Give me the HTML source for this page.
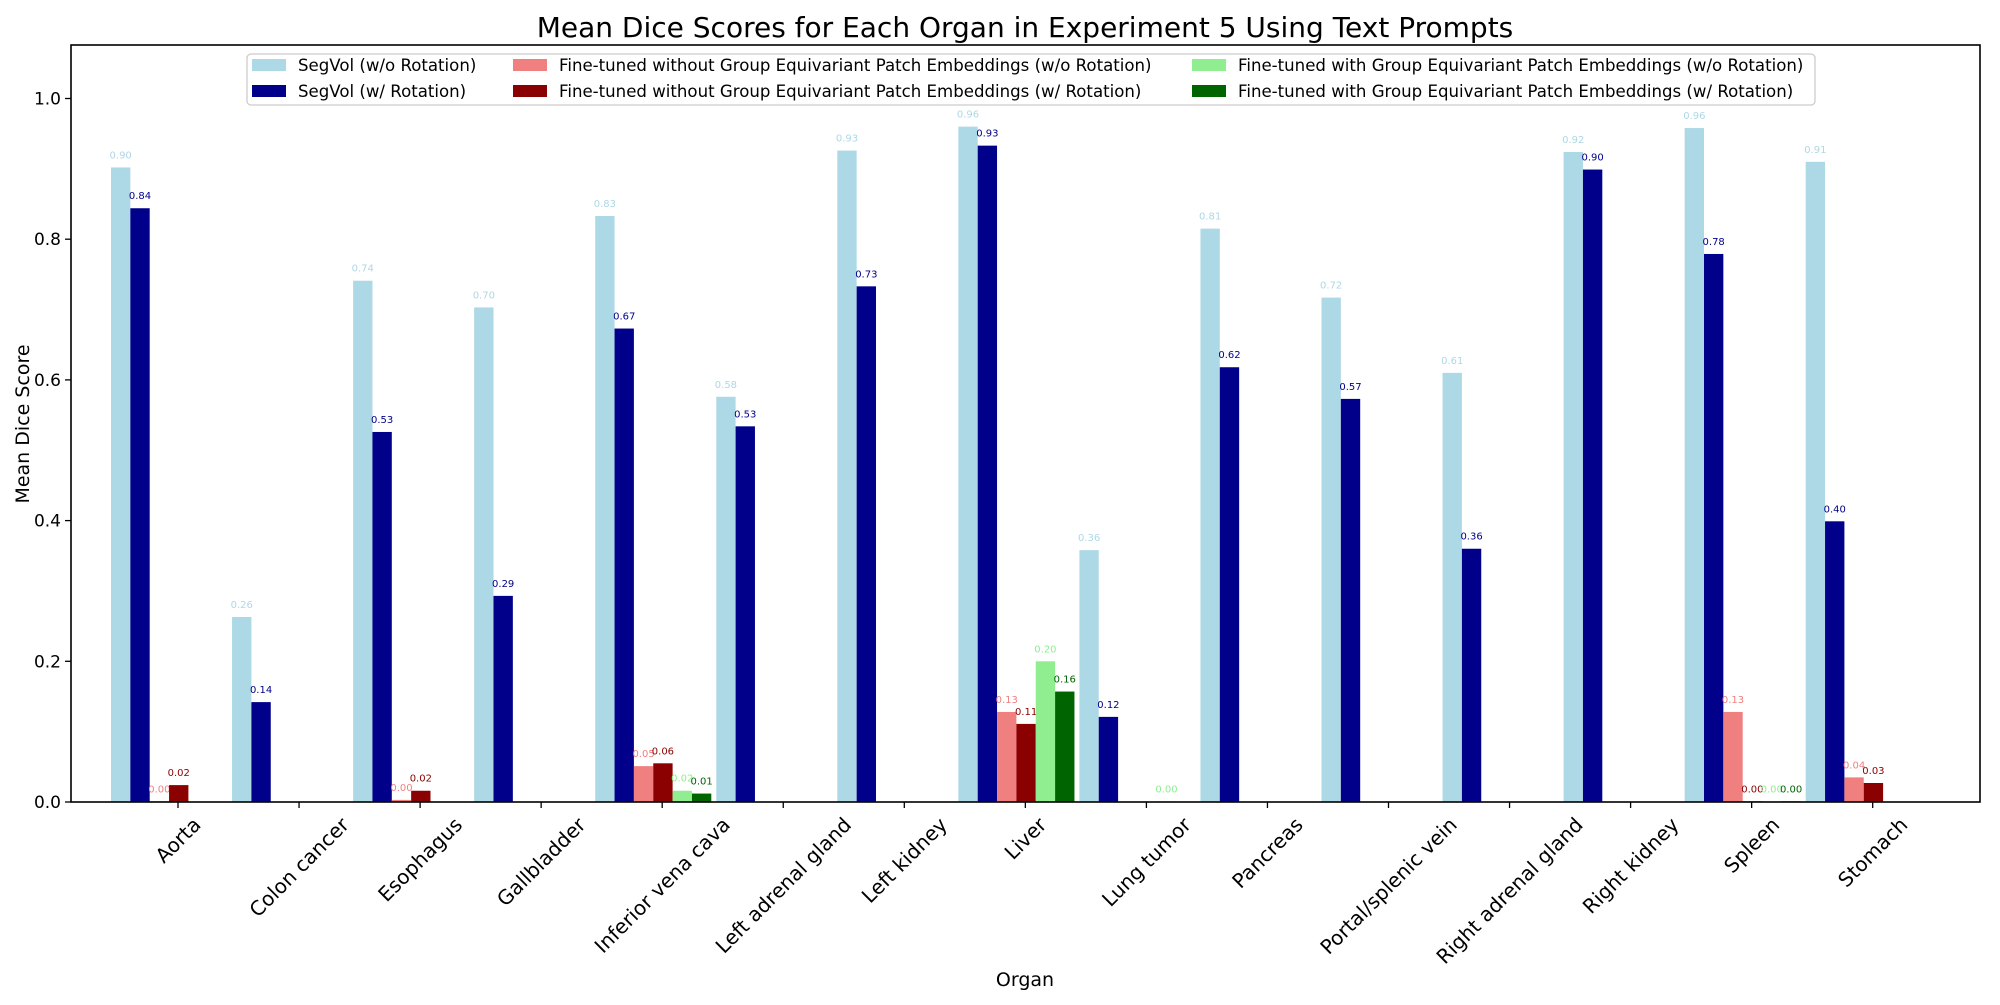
<!DOCTYPE html>
<html><head><meta charset="utf-8"><style>
body{margin:0;background:#fff;width:2000px;height:1000px;overflow:hidden}
svg text{font-family:"DejaVu Sans","Liberation Sans",sans-serif}
</style></head><body>
<svg id="chart" width="2000" height="1000" xmlns="http://www.w3.org/2000/svg">
<rect width="2000" height="1000" fill="#fff"/>
<text x="1025" y="37" font-size="28" text-anchor="middle">Mean Dice Scores for Each Organ in Experiment 5 Using Text Prompts</text>
<text transform="translate(29,424) rotate(-90)" font-size="19" text-anchor="middle">Mean Dice Score</text>
<text x="1025" y="986" font-size="19" text-anchor="middle">Organ</text>
<g id="bars"></g><g id="axes"></g><g id="legend"></g>
</svg>
<script>
const categories=["Aorta","Colon cancer","Esophagus","Gallbladder","Inferior vena cava","Left adrenal gland","Left kidney","Liver","Lung tumor","Pancreas","Portal/splenic vein","Right adrenal gland","Right kidney","Spleen","Stomach"];
const seriesNames=["SegVol (w/o Rotation)","SegVol (w/ Rotation)","Fine-tuned without Group Equivariant Patch Embeddings (w/o Rotation)","Fine-tuned without Group Equivariant Patch Embeddings (w/ Rotation)","Fine-tuned with Group Equivariant Patch Embeddings (w/o Rotation)","Fine-tuned with Group Equivariant Patch Embeddings (w/ Rotation)"];
const seriesColors=["#add8e6","#00008b","#f08080","#8b0000","#90ee90","#006400"];
const segvolNoRot=[0.902,0.263,0.741,0.703,0.833,0.576,0.926,0.960,0.358,0.815,0.717,0.610,0.924,0.958,0.910];
const segvolRot=[0.844,0.142,0.526,0.293,0.673,0.534,0.733,0.933,0.121,0.618,0.573,0.360,0.899,0.779,0.399];
const ftNoGeNoRot=[0.001,null,0.003,null,0.051,null,null,0.128,null,null,null,null,null,0.128,0.035];
const ftNoGeRot=[0.024,null,0.016,null,0.055,null,null,0.111,null,null,null,null,null,0.001,0.027];
const ftGeNoRot=[null,null,null,null,0.016,null,null,0.200,0.001,null,null,null,null,0.001,null];
const ftGeRot=[null,null,null,null,0.012,null,null,0.157,null,null,null,null,null,0.001,null];
const yTicks=[0.0,0.2,0.4,0.6,0.8,1.0];
const series=[segvolNoRot,segvolRot,ftNoGeNoRot,ftNoGeRot,ftGeNoRot,ftGeRot];
const NS="http://www.w3.org/2000/svg";
const L=71,R=1980,T=45,B=802;
const yScale=v=>B-v*703.5;
const xScale=i=>178+i*121.05;
const bw=19.35;
function mk(tag,attrs,parent){const e=document.createElementNS(NS,tag);for(const k in attrs)e.setAttribute(k,attrs[k]);parent.appendChild(e);return e;}
const gb=document.getElementById('bars');
series.forEach((vals,s)=>{vals.forEach((v,i)=>{if(v===null)return;
 const x=xScale(i)-67+s*bw;
 const r=mk('rect',{x:x,y:yScale(v),width:bw,height:B-yScale(v),fill:seriesColors[s]},gb);
 
 
 const t=mk('text',{x:x+bw/2,y:yScale(v)-9,'font-size':'10','text-anchor':'middle',fill:seriesColors[s]},gb);
 t.textContent=v.toFixed(2);
 
 
});});
const ga=document.getElementById('axes');
const fr=mk('rect',{x:L,y:T,width:R-L,height:B-T,fill:'none',stroke:'#000','stroke-width':'1.6'},ga);


yTicks.forEach(v=>{const y=yScale(v);
 mk('line',{x1:L-6,x2:L,y1:y,y2:y,stroke:'#000','stroke-width':'1.3'},ga);
 const t=mk('text',{x:L-10,y:y+6,'font-size':'17','text-anchor':'end'},ga);
 t.textContent=v.toFixed(1);
 
 
});
categories.forEach((c,i)=>{const x=xScale(i);
 mk('line',{x1:x,x2:x,y1:B,y2:B+6,stroke:'#000','stroke-width':'1.3'},ga);
 const t=mk('text',{'font-size':'20','text-anchor':'middle'},ga);
 t.textContent=c;
 
 
 const w=t.getComputedTextLength();const h=20;
 const cy=B+12+(w+h)*0.7071/2;
 t.setAttribute('transform','translate('+x+','+cy+') rotate(-45)');
 t.setAttribute('y',7);
});
const gl=document.getElementById('legend');
const lb=mk('rect',{x:247,y:54,width:1568,height:51,rx:4,fill:'#fff',stroke:'#ccc','stroke-width':'1.3'},gl);


const colX=[252,513,1192];
seriesNames.forEach((n,s)=>{const cx=colX[Math.floor(s/2)],cy=s%2?91:65;
 const p=mk('rect',{x:cx,y:cy-6,width:34,height:12,fill:seriesColors[s]},gl);
 
 
 const t=mk('text',{x:cx+46,y:cy+6,'font-size':'16.6'},gl);
 t.textContent=n;
 
 
});
</script>
</body></html>
